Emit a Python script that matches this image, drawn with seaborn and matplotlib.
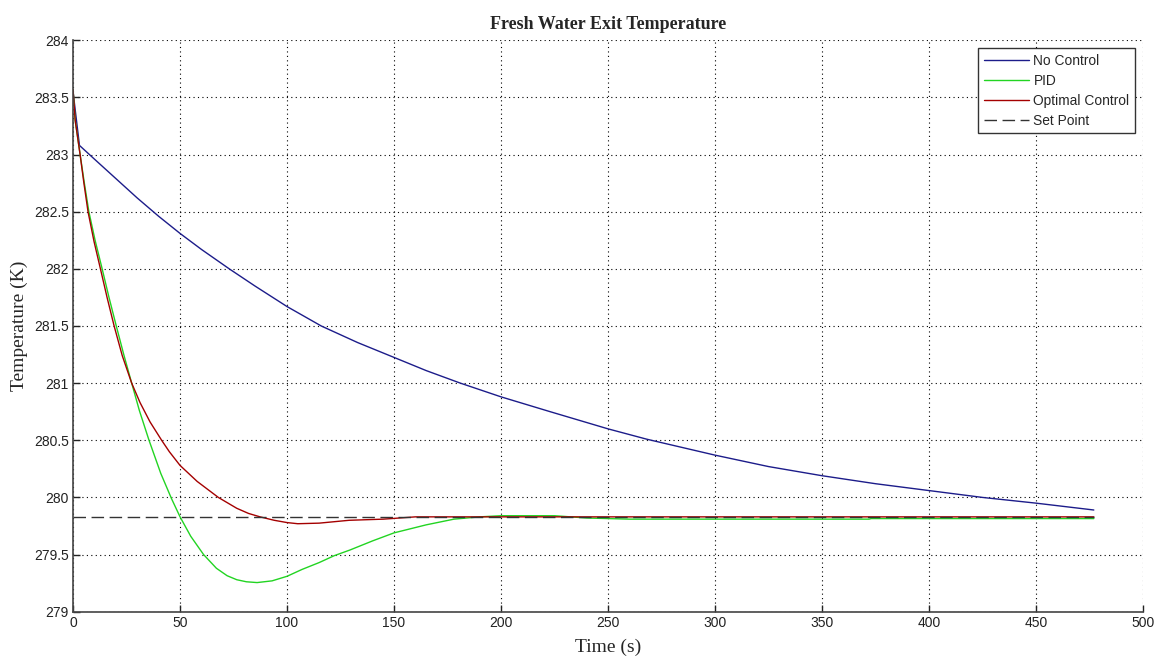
import matplotlib
matplotlib.use("Agg")
import matplotlib.pyplot as plt
import seaborn as sns
import pandas as pd

# ---- data ----
t_noctrl = [0, 3, 10, 20, 30, 40, 50, 60, 73, 85, 100, 116, 133, 150, 165, 181, 200,
            223, 250, 268, 300, 325, 350, 375, 400, 425, 450, 477]
T_noctrl = [283.55, 283.08, 282.96, 282.79, 282.62, 282.46, 282.31, 282.17, 282.0, 281.85,
            281.67, 281.5, 281.355, 281.225, 281.11, 281.0, 280.88, 280.75, 280.60, 280.51,
            280.37, 280.27, 280.19, 280.12, 280.06, 280.0, 279.95, 279.89]

t_pid = [0, 1, 3.3, 5.2, 7.4, 10.3, 13.6, 16.8, 20.2, 23.7, 27.4, 31, 35.5, 41, 46, 50, 55,
         61, 67, 72, 76.5, 81, 86, 93, 100, 107, 115, 122, 129.4, 140, 150, 165, 178, 190,
         200, 225, 240, 260, 372, 373, 477]
T_pid = [283.57, 283.3, 283.0, 282.76, 282.5, 282.25, 282.0, 281.75, 281.5, 281.25, 281.0,
         280.76, 280.5, 280.21, 279.99, 279.83, 279.66, 279.5, 279.38, 279.315, 279.28, 279.262,
         279.255, 279.27, 279.31, 279.37, 279.43, 279.49, 279.54, 279.62, 279.69, 279.76,
         279.81, 279.83, 279.84, 279.84, 279.82, 279.81, 279.81, 279.815, 279.815]

t_opt = [0, 1, 3.3, 5, 7.0, 9.8, 12.8, 15.9, 19.2, 23, 27.4, 31.3, 36, 41.4, 45, 50, 58,
         67.9, 76.5, 82, 87.4, 94, 100, 105, 115, 129, 145, 160, 477]
T_opt = [283.57, 283.3, 283.0, 282.76, 282.5, 282.24, 282.0, 281.75, 281.5, 281.24, 281.0,
         280.83, 280.66, 280.5, 280.4, 280.28, 280.14, 280.0, 279.905, 279.86, 279.83, 279.8,
         279.78, 279.77, 279.775, 279.80, 279.81, 279.83, 279.83]

t_set = [0, 477]
T_set = [279.83, 279.83]

labels = ["No Control", "PID", "Optimal Control", "Set Point"]
colors = ["#1c1c8a", "#22d422", "#a40000", "#333333"]

x_ticks = [0, 50, 100, 150, 200, 250, 300, 350, 400, 450, 500]
y_ticks = [279, 279.5, 280, 280.5, 281, 281.5, 282, 282.5, 283, 283.5, 284]
y_ticklabels = ["279", "279.5", "280", "280.5", "281", "281.5", "282", "282.5", "283", "283.5", "284"]

sns.set_theme(style="white")
plt.rcParams["font.family"] = ["Liberation Sans", "DejaVu Sans"]

fig = plt.figure(figsize=(11.54, 6.56), dpi=100)
ax = fig.add_axes([0.0633, 0.0675, 0.9272, 0.8711])

series = [(t_noctrl, T_noctrl), (t_pid, T_pid), (t_opt, T_opt)]
for (tx, ty), lab, col in zip(series, labels[:3], colors[:3]):
    df = pd.DataFrame({"t": tx, "T": ty})
    sns.lineplot(data=df, x="t", y="T", ax=ax, color=col, lw=1.0, label=lab,
                 sort=False, estimator=None)
df_s = pd.DataFrame({"t": t_set, "T": T_set})
sns.lineplot(data=df_s, x="t", y="T", ax=ax, color=colors[3], lw=1.0, label=labels[3],
             sort=False, estimator=None, linestyle=(0, (9, 4)))

ax.set_xlim(0, 500)
ax.set_ylim(279, 284)
ax.set_xticks(x_ticks)
ax.set_xticklabels([str(v) for v in x_ticks])
ax.set_yticks(y_ticks)
ax.set_yticklabels(y_ticklabels)
ax.grid(True, color="black", linestyle=(0, (1, 3)), linewidth=0.8)

for s in ["top", "right"]:
    ax.spines[s].set_visible(False)
for s in ["left", "bottom"]:
    ax.spines[s].set_color("#444444")
    ax.spines[s].set_linewidth(1.2)
ax.tick_params(direction="in", length=5, width=1, color="#222222", labelsize=10,
               labelcolor="#222222", pad=3, left=True, bottom=True)

ax.set_title("Fresh Water Exit Temperature", fontfamily="Liberation Serif",
             fontweight="bold", fontsize=13, pad=8)
ax.set_xlabel("Time (s)", fontfamily="Liberation Serif", fontsize=14, labelpad=6)
ax.set_ylabel("Temperature (K)", fontfamily="Liberation Serif", fontsize=14, labelpad=4)

leg = ax.legend(loc="upper right", bbox_to_anchor=(0.9925, 0.986), fontsize=9.9,
                frameon=True, fancybox=False, framealpha=1, edgecolor="#333333",
                handlelength=3.3, labelspacing=0.44, borderpad=0.4, handletextpad=0.3,
                borderaxespad=0)
leg.get_frame().set_linewidth(1.0)

fig.savefig("out.png", dpi=100)
